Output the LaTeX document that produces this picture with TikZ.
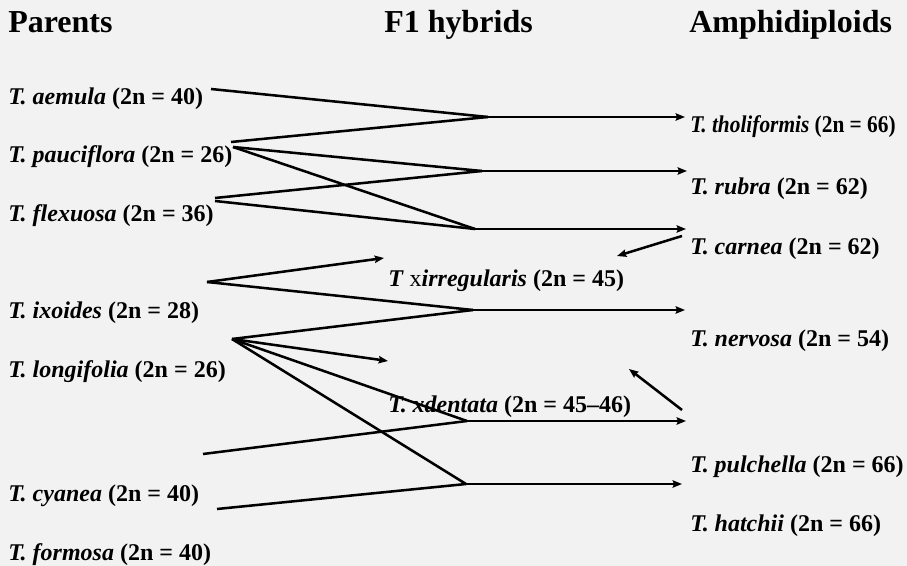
\documentclass[tikz,border=0pt]{standalone}
\usepackage{fontspec}
\usepackage{graphicx}
\setmainfont{Liberation Serif}
\usetikzlibrary{arrows.meta}
\tikzset{>={Stealth[length=7pt,width=5.5pt,inset=1pt]}}
\definecolor{slidegray}{RGB}{242,242,242}
\tikzset{
  taxon/.style={anchor=west,inner sep=0pt,yshift=-1.2pt,font=\fontsize{18}{21}\selectfont\bfseries},
  heading/.style={anchor=base west,inner sep=0pt,font=\fontsize{24}{27}\selectfont\bfseries},
  cross/.style={line width=1.9pt},
  gives/.style={cross,->},
}
\newcommand{\taxname}[2]{\textit{#1} (2n = #2)}

\begin{document}
\begin{tikzpicture}[x=0.75pt,y=-0.75pt]
    \fill[slidegray] (0,0) rectangle (907,566);
    % column heads
    \node[heading] (hpar) at (8,33) {Parents};
    \node[heading] (hfone) at (384,33) {F1 hybrids};
    \node[heading] (hamph) at (689,33) {Amphidiploids};
    % parents
    \node[taxon] (aem) at (8,97) {\taxname{T. aemula}{40}};
    \node[taxon] (pau) at (8,155) {\taxname{T. pauciflora}{26}};
    \node[taxon] (fle) at (8,214) {\taxname{T. flexuosa}{36}};
    \node[taxon] (ixo) at (8,311) {\taxname{T. ixoides}{28}};
    \node[taxon] (lon) at (8,370) {\taxname{T. longifolia}{26}};
    \node[taxon] (cya) at (8,494) {\taxname{T. cyanea}{40}};
    \node[taxon] (for) at (8,553) {\taxname{T. formosa}{40}};
    % F1 hybrids
    \node[taxon] (irr) at (388,279) {\textit{T} {\mdseries x}\textit{irregularis} (2n = 45)};
    \node[taxon] (den) at (388,405) {\taxname{T. xdentata}{45--46}};
    % amphidiploids
    \node[taxon] (tho) at (690,125) {\scalebox{0.89}[1]{\taxname{T. tholiformis}{66}}};
    \node[taxon] (rub) at (690,187) {\taxname{T. rubra}{62}};
    \node[taxon] (car) at (690,247) {\taxname{T. carnea}{62}};
    \node[taxon] (ner) at (690,339) {\taxname{T. nervosa}{54}};
    \node[taxon] (pul) at (690,465) {\taxname{T. pulchella}{66}};
    \node[taxon] (hat) at (690,524) {\taxname{T. hatchii}{66}};
    % line ends and junctions
    \foreach \n/\x/\y in {a1/211/89, p1/231/142, p2/233/147, f1/215/198, f2/215/201,
        i1/207/282, l1/232/339, c0/203/454, c1/217/509,
        j1/488/117, j2/482/171, j3/475/229, j4/473/310, j5/467/421, j6/466/484,
        e1/685/117, e2/687/171, e3/686/229, e4/685/310, e5/686/421, e6/682/484,
        ir/384/258, dn/388/361, cs/682/236, ct/617/256, ns/682/410, nt/629/369}
      \coordinate (\n) at (\x,\y);
    \foreach \s/\t in {a1/j1,p1/j1,p2/j2,p2/j3,f1/j2,f2/j3,
        i1/j4,l1/j4,l1/j5,l1/j6,c0/j5,c1/j6}
      \draw[cross] (\s) -- (\t);
    \foreach \s/\t in {j1/e1,j2/e2,j3/e3,j4/e4,j5/e5,j6/e6,i1/ir,l1/dn,cs/ct,ns/nt}
      \draw[gives] (\s) -- (\t);
\end{tikzpicture}
\end{document}
